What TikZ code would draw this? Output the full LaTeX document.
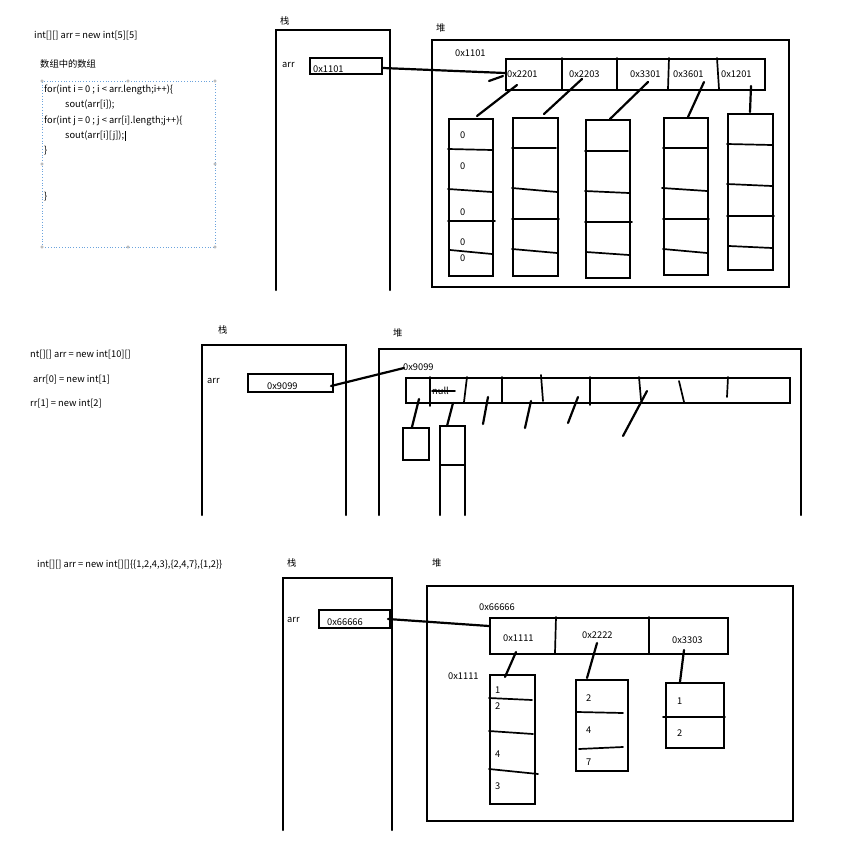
\documentclass[tikz,border=0pt]{standalone}
\usepackage{fontspec}
\setmainfont{Noto Sans CJK SC}
\newcommand\mybox[5]{\node[bx, anchor=north west, minimum width=#4pt, minimum height=#5pt, inner sep=0pt] (#1) at (#2,#3) {};}
\begin{document}
\begin{tikzpicture}[x=1pt,y=-1pt,
  ln/.style={line width=2.2pt, line cap=round},
  bx/.style={draw, line width=2.2pt},
  tl/.style={line width=1.7pt, line cap=round},
  txt/.style={anchor=west, inner sep=0pt, font=\fontsize{9.3}{11}\selectfont},
  sel/.style={draw=cyan!60!blue!60, dotted, line width=0.8pt},
  handle/.style={circle, draw=gray!70, fill=white, line width=0.4pt, inner sep=0pt, minimum size=2.5pt}]
\useasboundingbox (0,0) rectangle (868,862);

% ================= top =================
\node[txt] (d1) at (34,36) {int[][] arr = new int[5][5]};
\node[txt] (d2) at (40,64) {数组中的数组};
\node[sel, anchor=north west, minimum width=173pt, minimum height=166pt, inner sep=0pt] (selbox) at (42,81) {};
\foreach \p [count=\i] in {(42,81),(128,81),(215,81),(42,164),(215,164),(42,247),(128,247),(215,247)}
  \node[handle] (h\i) at \p {};
\node[txt] (c1) at (44,90) {for(int i = 0 ; i < arr.length;i++)\{};
\node[txt] (c2) at (65,105) {sout(arr[i]);};
\node[txt] (c3) at (44,121) {for(int j = 0 ; j < arr[i].length;j++)\{};
\node[txt] (c4) at (65,136) {sout(arr[i][j]);};
\draw[line width=0.6pt] (c4.east) ++(1,-5) -- ++(0,10);
\node[txt] (c5) at (44,151) {\}};
\node[txt] (c6) at (44,197) {\}};

% stack 1
\draw[ln] (276,290) -- (276,30) -- (390,30) -- (390,290);
\node[txt] (s1) at (280,21) {栈};
\node[txt] (a1) at (282,65) {arr};
\mybox{p1}{309}{57}{72}{16}
\node[txt] (p1t) at (313,69) {0x1101};

% heap 1
\node[txt] (hp1) at (436,28) {堆};
\mybox{heap1}{431}{39}{357}{247}
\node[txt] (ha1) at (455,53) {0x1101};
\mybox{row1}{505}{58}{259}{31}
\draw[tl] (562,58) -- (562,89);
\draw[tl] (617,58) -- (617,89);
\draw[tl] (669,58) -- (668,89);
\draw[tl] (717,58) -- (719,89);
\node[txt] (r11) at (507,74) {0x2201};
\node[txt] (r12) at (569,74) {0x2203};
\node[txt] (r13) at (630,74) {0x3301};
\node[txt] (r14) at (673,74) {0x3601};
\node[txt] (r15) at (721,74) {0x1201};
\coordinate (e1) at (505,73);
\draw[ln] (383,68) -- (e1);
\draw[ln] (489,81) -- (503,76);

% columns top
\mybox{k1}{448}{118}{44}{157}
\mybox{k2}{512}{117}{45}{158}
\mybox{k3}{585}{119}{44}{158}
\mybox{k4}{663}{117}{44}{157}
\mybox{k5}{727}{113}{45}{156}
\draw[ln] (517,85) -- (477,116);
\draw[ln] (582,79) -- (544,114);
\draw[ln] (648,82) -- (610,119);
\draw[ln] (704,82) -- (688,117);
\draw[ln] (751,86) -- (750,112);
% dividers
\draw[tl] (448,149) -- (492,150);
\draw[tl] (448,189) -- (492,192);
\draw[tl] (448,221) -- (495,221);
\draw[tl] (450,250) -- (492,254);
\draw[tl] (512,148) -- (556,148);
\draw[tl] (512,188) -- (557,192);
\draw[tl] (512,219) -- (559,219);
\draw[tl] (512,249) -- (557,253);
\draw[tl] (585,151) -- (628,151);
\draw[tl] (585,191) -- (629,193);
\draw[tl] (585,222) -- (632,222);
\draw[tl] (586,252) -- (629,255);
\draw[tl] (663,148) -- (707,148);
\draw[tl] (662,188) -- (707,191);
\draw[tl] (663,219) -- (709,219);
\draw[tl] (663,249) -- (707,253);
\draw[tl] (727,144) -- (772,145);
\draw[tl] (727,184) -- (772,186);
\draw[tl] (727,216) -- (774,216);
\draw[tl] (729,246) -- (772,248);
\node[txt] (z1) at (460,135) {0};
\node[txt] (z2) at (460,166) {0};
\node[txt] (z3) at (460,212) {0};
\node[txt] (z4) at (460,242) {0};
\node[txt] (z5) at (460,258) {0};

% ================= middle =================
\node[txt] (m1) at (30,355) {nt[][] arr = new int[10][]};
\node[txt] (m2) at (33,380) {arr[0] = new int[1]};
\node[txt] (m3) at (30,404) {rr[1] = new int[2]};
\node[txt] (s2) at (218,330) {栈};
\draw[ln] (202,515) -- (202,345) -- (346,345) -- (346,515);
\node[txt] (a2) at (207,381) {arr};
\mybox{p2}{247}{373}{85}{18}
\node[txt] (p2t) at (267,386) {0x9099};
\node[txt] (hp2) at (393,333) {堆};
\draw[ln] (379,515) -- (379,349) -- (801,349) -- (801,515);
\node[txt] (ha2) at (403,367) {0x9099};
\coordinate (e2) at (404,368);
\draw[ln] (331,386) -- (e2);
\mybox{row2}{405}{377}{384}{25}
\draw[tl] (430,377) -- (430,406);
\draw[tl] (467,377) -- (464,402);
\draw[tl] (502,377) -- (502,402);
\draw[tl] (541,375) -- (543,401);
\draw[tl] (590,377) -- (590,405);
\draw[tl] (639,377) -- (641,400);
\draw[tl] (679,381) -- (684,402);
\draw[tl] (728,377) -- (727,397);
\node[txt] (nul) at (432,391) {null};
\draw[tl] (432,391) -- (455,391);
\mybox{sb}{402}{427}{26}{32}
\draw[ln] (440,515) -- (440,426) -- (465,426) -- (465,515);
\draw[tl] (440,465) -- (465,465);
\draw[ln] (419,399) -- (412,427);
\draw[ln] (453,403) -- (447,426);
\draw[ln] (488,397) -- (483,424);
\draw[ln] (531,401) -- (525,428);
\draw[ln] (578,397) -- (568,423);
\draw[ln] (647,391) -- (623,436);

% ================= bottom =================
\node[txt] (b1) at (37,565) {int[][] arr = new int[][]\{\{1,2,4,3\},\{2,4,7\},\{1,2\}\}};
\node[txt] (s3) at (287,563) {栈};
\draw[ln] (283,830) -- (283,578) -- (392,578) -- (392,830);
\node[txt] (a3) at (287,620) {arr};
\mybox{p3}{318}{609}{71}{18}
\node[txt] (p3t) at (327,622) {0x66666};
\node[txt] (hp3) at (432,563) {堆};
\mybox{heap3}{426}{585}{366}{235}
\node[txt] (ha3) at (479,607) {0x66666};
\mybox{row3}{489}{617}{238}{36}
\draw[tl] (556,617) -- (555,653);
\draw[tl] (649,617) -- (649,653);
\coordinate (e3) at (489,626);
\draw[ln] (388,619) -- (e3);
\node[txt] (r31) at (503,638) {0x1111};
\node[txt] (r32) at (582,635) {0x2222};
\node[txt] (r33) at (672,640) {0x3303};
\node[txt] (lb) at (448,676) {0x1111};
\mybox{ka}{489}{674}{45}{129}
\mybox{kb}{575}{679}{52}{91}
\mybox{kc}{665}{682}{58}{65}
\draw[ln] (516,652) -- (505,677);
\draw[ln] (597,643) -- (587,678);
\draw[ln] (684,650) -- (680,682);
\draw[tl] (489,698) -- (532,700);
\draw[tl] (489,731) -- (533,734);
\draw[tl] (489,769) -- (538,774);
\draw[tl] (577,712) -- (623,713);
\draw[tl] (579,749) -- (623,747);
\draw[tl] (663,717) -- (725,717);
\node[txt] (v1) at (495,690) {1};
\node[txt] (v2) at (495,706) {2};
\node[txt] (v3) at (495,754) {4};
\node[txt] (v4) at (495,786) {3};
\node[txt] (v5) at (586,698) {2};
\node[txt] (v6) at (586,730) {4};
\node[txt] (v7) at (586,762) {7};
\node[txt] (v8) at (677,701) {1};
\node[txt] (v9) at (677,733) {2};
\end{tikzpicture}
\end{document}
